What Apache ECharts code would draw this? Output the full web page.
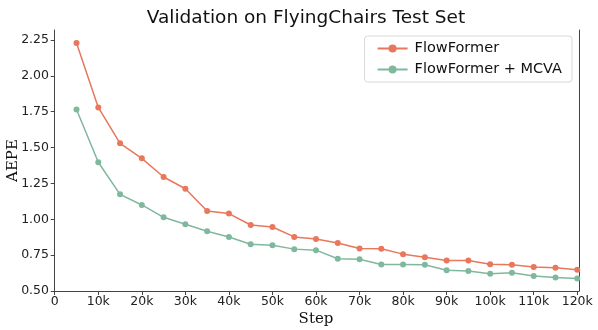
<!DOCTYPE html>
<html>
<head>
<meta charset="utf-8">
<script src="https://cdn.jsdelivr.net/npm/echarts@6/dist/echarts.min.js"></script>
<style>
  html, body { margin: 0; padding: 0; background: #fff; }
  #chart { width: 598px; height: 330px; }
</style>
</head>
<body>
<div id="chart"></div>
<script>
// steps (every 5k)
var steps = [5000, 10000, 15000, 20000, 25000, 30000, 35000, 40000, 45000, 50000, 55000, 60000,
             65000, 70000, 75000, 80000, 85000, 90000, 95000, 100000, 105000, 110000, 115000, 120000];
var flowFormer = [2.23, 1.78, 1.53, 1.425, 1.295, 1.213, 1.058, 1.04, 0.96, 0.946, 0.877, 0.863,
                  0.835, 0.796, 0.794, 0.757, 0.736, 0.713, 0.713, 0.687, 0.683, 0.667, 0.662, 0.648];
var flowFormerMcva = [1.766, 1.398, 1.174, 1.1, 1.014, 0.965, 0.917, 0.877, 0.826, 0.819, 0.792, 0.785,
                      0.725, 0.722, 0.685, 0.685, 0.683, 0.644, 0.639, 0.62, 0.627, 0.604, 0.595, 0.588];
var xTicks = [0, 10000, 20000, 30000, 40000, 50000, 60000, 70000, 80000, 90000, 100000, 110000, 120000];
var yTicks = [0.5, 0.75, 1.0, 1.25, 1.5, 1.75, 2.0, 2.25];

function pairs(ys) {
    return steps.map(function (s, i) { return [s, ys[i]]; });
}

var myChart = echarts.init(document.getElementById('chart'));

var axisColor = '#444';
var tickFont = { fontFamily: 'DejaVu Sans', fontSize: 12.5, color: '#222' };

var option = {
    animation: false,
    title: {
        text: 'Validation on FlyingChairs Test Set',
        left: 301,
        textAlign: 'center',
        top: 4,
        textStyle: { fontFamily: 'DejaVu Sans', fontSize: 18.5, fontWeight: 'normal', color: '#111' }
    },
    legend: {
        data: ['FlowFormer', 'FlowFormer + MCVA'],
        orient: 'vertical',
        right: 26,
        top: 36,
        itemWidth: 30,
        itemHeight: 10,
        itemGap: 6,
        padding: [5, 10, 5, 12],
        borderColor: '#d8d8d8',
        borderWidth: 1,
        borderRadius: 3,
        textStyle: { fontFamily: 'DejaVu Sans', fontSize: 14.5, color: '#111', padding: [0, 0, 0, 2] }
    },
    grid: { left: 53, right: 19, top: 30, bottom: 39, outerBoundsMode: 'none' },
    xAxis: {
        type: 'value',
        min: -400,
        max: 120400,
        name: 'Step',
        nameLocation: 'middle',
        nameGap: 21,
        nameMoveOverlap: false,
        nameTextStyle: { fontFamily: 'DejaVu Serif', fontSize: 15, color: '#111' },
        splitLine: { show: false },
        axisLine: { show: true, onZero: false, lineStyle: { color: axisColor, width: 1 } },
        axisTick: { show: true, customValues: xTicks, length: 4, lineStyle: { color: axisColor } },
        axisLabel: Object.assign({
            customValues: xTicks,
            margin: 4,
            formatter: function (v) { return v === 0 ? '0' : (v / 1000) + 'k'; }
        }, tickFont)
    },
    yAxis: [{
        type: 'value',
        min: 0.5,
        max: 2.32,
        name: 'AEPE',
        nameLocation: 'middle',
        nameGap: 32,
        nameMoveOverlap: false,
        nameTextStyle: { fontFamily: 'DejaVu Serif', fontSize: 15, color: '#111' },
        splitLine: { show: false },
        axisLine: { show: true, lineStyle: { color: axisColor, width: 1 } },
        axisTick: { show: true, customValues: yTicks, length: 4, lineStyle: { color: axisColor } },
        axisLabel: Object.assign({
            customValues: yTicks,
            margin: 4,
            formatter: function (v) { return v.toFixed(2); }
        }, tickFont)
    }, {
        type: 'value',
        position: 'right',
        min: 0.5,
        max: 2.32,
        splitLine: { show: false },
        axisLine: { show: true, lineStyle: { color: axisColor, width: 1 } },
        axisTick: { show: false },
        axisLabel: { show: false }
    }],
    series: [
        {
            name: 'FlowFormer',
            type: 'line',
            data: pairs(flowFormer),
            symbol: 'circle',
            symbolSize: 6,
            color: '#e8775c',
            lineStyle: { width: 1.5 }
        },
        {
            name: 'FlowFormer + MCVA',
            type: 'line',
            data: pairs(flowFormerMcva),
            symbol: 'circle',
            symbolSize: 6,
            color: '#80b89e',
            lineStyle: { width: 1.5 }
        }
    ]
};

myChart.setOption(option, true);
</script>
</body>
</html>
